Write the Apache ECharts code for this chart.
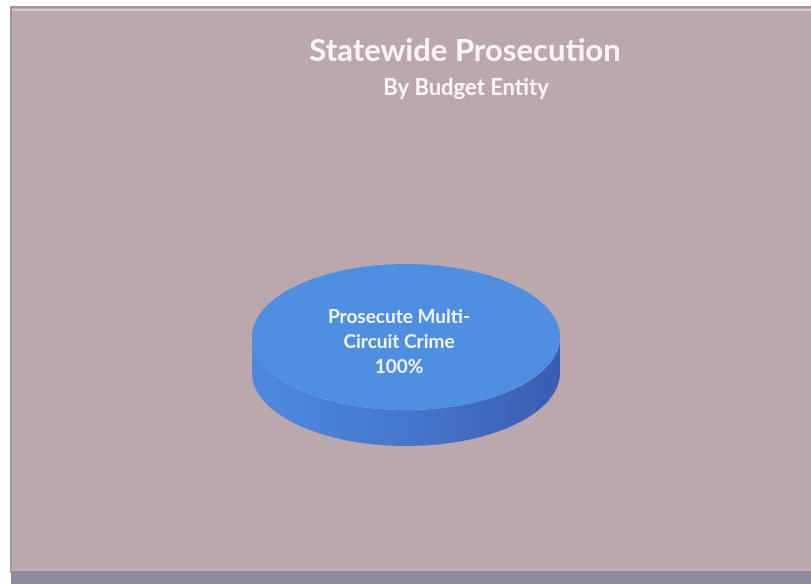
<!DOCTYPE html>
<html>
<head>
<meta charset="utf-8">
<script src="https://cdn.jsdelivr.net/npm/echarts@6/dist/echarts.min.js"></script>
<style>
  html, body { margin: 0; padding: 0; background: #ffffff; }
  #chart { width: 811px; height: 584px; }
</style>
</head>
<body>
<div id="chart"></div>
<script>
// Chart text and data
const titleText = 'Statewide Prosecution';
const subtitleText = 'By Budget Entity';
const categories = ['Prosecute Multi-Circuit Crime'];
const values = [100];

// Slice styling (top face colour, wall gradient stops)
const sliceColors = ['#4e8fe1'];
const wallColors = [['#4d8ade', '#4577cc', '#3a5cb0']];

const total = values.reduce((a, b) => a + b, 0);

// Tilted pie geometry: ellipse radii and wall depth
const pie = { cx: 406, cy: 337, rx: 154, ry: 73, depth: 36 };

function ellPoint(t, dy) {
  return [pie.cx + pie.rx * Math.cos(t), pie.cy + pie.ry * Math.sin(t) + (dy || 0)];
}
function arcPoints(a0, a1, dy) {
  const n = Math.max(2, Math.ceil(Math.abs(a1 - a0) / (Math.PI / 120)));
  const pts = [];
  for (let i = 0; i <= n; i++) pts.push(ellPoint(a0 + (a1 - a0) * i / n, dy));
  return pts;
}
function wrapLabel(name) {
  return name.replace(/-\s*/, '-\n');
}

function renderSlice(params, api) {
  const i = params.dataIndex;
  const v = api.value(0);
  let before = 0;
  for (let k = 0; k < i; k++) before += values[k];
  // start at 12 o'clock, clockwise
  const s = -Math.PI / 2 + before / total * 2 * Math.PI;
  const e = s + v / total * 2 * Math.PI;
  const children = [];

  // outer wall: only the front half (angles 0..PI) is visible
  for (let k = -1; k <= 1; k++) {
    const lo = Math.max(s, 2 * k * Math.PI);
    const hi = Math.min(e, 2 * k * Math.PI + Math.PI);
    if (hi > lo) {
      const pts = arcPoints(lo, hi, 0).concat(arcPoints(hi, lo, pie.depth));
      const c = wallColors[i % wallColors.length];
      children.push({
        type: 'polygon',
        shape: { points: pts },
        style: {
          fill: new echarts.graphic.LinearGradient(0, 0, 1, 0, [
            { offset: 0, color: c[0] },
            { offset: 0.5, color: c[1] },
            { offset: 1, color: c[2] }
          ])
        }
      });
    }
  }

  // top face
  let top = arcPoints(s, e, 0);
  if (v < total) top = [[pie.cx, pie.cy]].concat(top);
  children.push({
    type: 'polygon',
    shape: { points: top },
    style: { fill: sliceColors[i % sliceColors.length] }
  });

  // data label: name and percentage
  const pct = Math.round(v / total * 100) + '%';
  let lx = pie.cx - 7, ly = pie.cy + 5;
  if (v < total) {
    const mid = (s + e) / 2;
    lx = pie.cx + pie.rx * 0.6 * Math.cos(mid);
    ly = pie.cy + pie.ry * 0.6 * Math.sin(mid);
  }
  children.push({
    type: 'text',
    x: lx,
    y: ly,
    style: {
      text: wrapLabel(categories[i]) + '\n' + pct,
      fill: '#f2f4fa',
      font: 'bold 19px Lato, "Open Sans", sans-serif',
      lineHeight: 25,
      align: 'center',
      verticalAlign: 'middle'
    }
  });

  return { type: 'group', children };
}

const chart = echarts.init(document.getElementById('chart'), null, { renderer: 'canvas' });
chart.setOption({
  animation: false,
  backgroundColor: '#ffffff',
  graphic: [
    // chart area frame
    {
      type: 'rect', z: -10,
      shape: { x: 11, y: 7, width: 812, height: 565 },
      style: { fill: '#baa8ad', stroke: '#9e9498', lineWidth: 2 }
    },
    {
      type: 'line', z: -9,
      shape: { x1: 13, y1: 10, x2: 811, y2: 10 },
      style: { stroke: '#d6c9cc', lineWidth: 2 }
    },
    {
      type: 'rect', z: -9,
      shape: { x: 11, y: 571, width: 800, height: 13 },
      style: { fill: '#8e8a9f' }
    },
    {
      type: 'line', z: -8,
      shape: { x1: 11, y1: 570, x2: 811, y2: 570 },
      style: { stroke: '#c7a6b6', lineWidth: 2 }
    }
  ],
  title: [
    {
      text: titleText,
      left: 460, top: 30,
      textAlign: 'center',
      textStyle: { color: '#faf6f8', fontFamily: 'Lato, "Open Sans", sans-serif', fontWeight: 'bold', fontSize: 31 }
    },
    {
      text: subtitleText,
      left: 461, top: 72,
      textAlign: 'center',
      textStyle: { color: '#faf6f8', fontFamily: 'Lato, "Open Sans", sans-serif', fontWeight: 'bold', fontSize: 22 }
    }
  ],
  series: [{
    type: 'custom',
    coordinateSystem: 'none',
    renderItem: renderSlice,
    data: values.map(v => [v])
  }]
});
</script>
</body>
</html>
